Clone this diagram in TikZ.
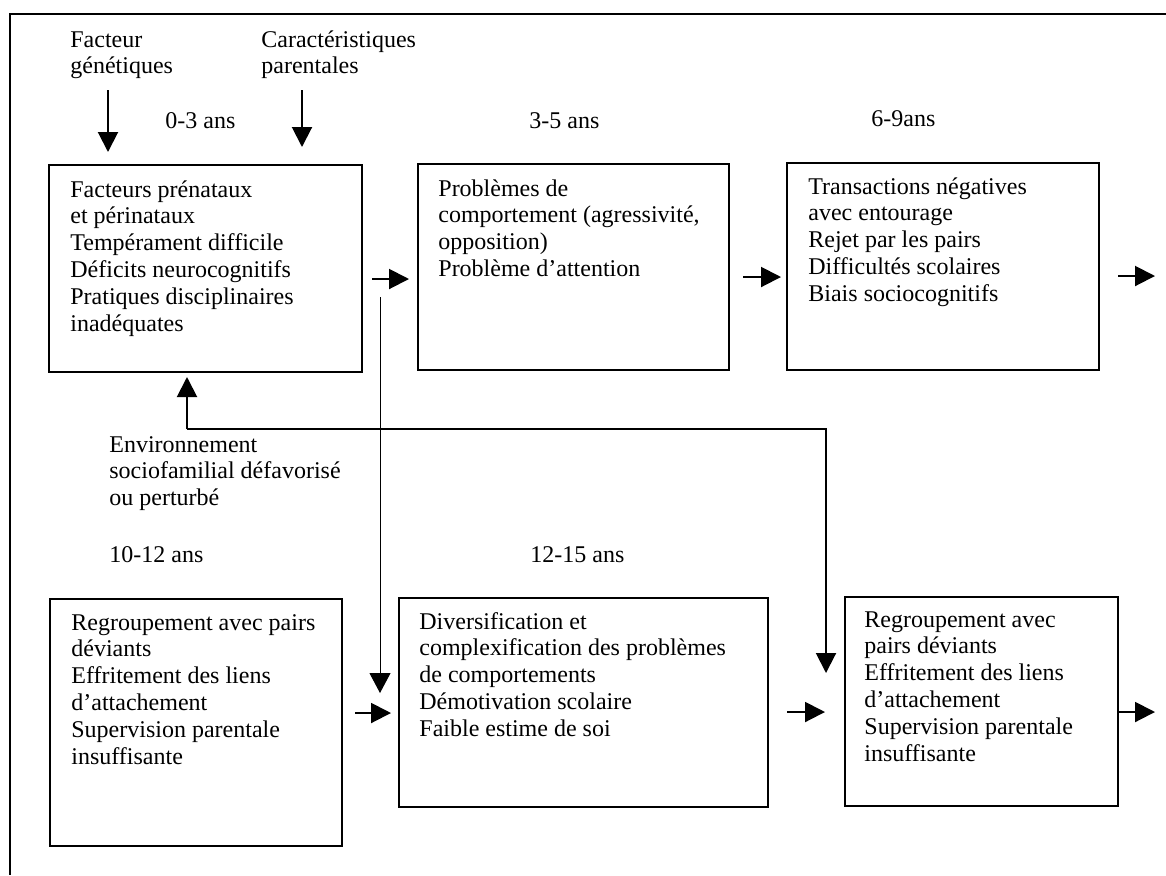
\documentclass[tikz,border=0pt]{standalone}
\usepackage{fontspec}
\setmainfont{Liberation Serif}
\usetikzlibrary{arrows.meta,fit,calc}
\begin{document}
\begin{tikzpicture}[x=0.5pt,y=-0.5pt,
  box/.style={draw,line width=1pt,inner sep=0pt},
  txt/.style={inner sep=0pt,align=left,font=\fontsize{12}{13.4}\selectfont},
  arr/.style={line width=1pt,-{Triangle[length=10pt,width=10pt]}},
  thinarr/.style={line width=0.5pt,-{Triangle[length=10pt,width=10.5pt]}},
  frameline/.style={line width=1pt}]
\useasboundingbox (0,0) rectangle (1166,875);
% outer frame (top and left only)
\draw[frameline] (1166,14) -- (10,14) -- (10,875);

% boxes
\node[box,fit={(49,165) (362,372)}] (b1) {};
\node[box,fit={(418,164) (729,370)}] (b2) {};
\node[box,fit={(787,163) (1099,370)}] (b3) {};
\node[box,fit={(50,599) (342,846)}] (b4) {};
\node[box,fit={(399,598) (768,807)}] (b5) {};
\node[box,fit={(845,597) (1118,806)}] (b6) {};

% box texts
\node[txt,anchor=north west] (t1) at ($(b1.north west)+(22,14)$) {\strut Facteurs prénataux\\et périnataux\\Tempérament difficile\\Déficits neurocognitifs\\Pratiques disciplinaires\\inadéquates};
\node[txt,anchor=north west] (t2) at ($(b2.north west)+(21,14)$) {\strut Problèmes de\\comportement (agressivité,\\opposition)\\Problème d’attention};
\node[txt,anchor=north west] (t3) at ($(b3.north west)+(22,13)$) {\strut Transactions négatives\\avec entourage\\Rejet par les pairs\\Difficultés scolaires\\Biais sociocognitifs};
\node[txt,anchor=north west] (t4) at ($(b4.north west)+(22,13)$) {\strut Regroupement avec pairs\\déviants\\Effritement des liens\\d’attachement\\Supervision parentale\\insuffisante};
\node[txt,anchor=north west] (t5) at ($(b5.north west)+(21,13)$) {\strut Diversification et\\complexification des problèmes\\de comportements\\Démotivation scolaire\\Faible estime de soi};
\node[txt,anchor=north west] (t6) at ($(b6.north west)+(20,12)$) {\strut Regroupement avec\\pairs déviants\\Effritement des liens\\d’attachement\\Supervision parentale\\insuffisante};

% free labels
\node[txt,anchor=north west] (gen) at (70,28) {\strut Facteur\\génétiques};
\node[txt,anchor=north west] (par) at (261,28) {\strut Caractéristiques\\parentales};
\node[txt,anchor=base west] (a03) at (165,128) {0-3 ans};
\node[txt,anchor=base west] (a35) at (529,128) {3-5 ans};
\node[txt,anchor=base west] (a69) at (871,126) {6-9ans};
\node[txt,anchor=north west] (env) at (109,433) {\strut Environnement\\sociofamilial défavorisé\\ou perturbé};
\node[txt,anchor=base west] (a1012) at (109,562) {10-12 ans};
\node[txt,anchor=base west] (a1215) at (530,562) {12-15 ans};

% coordinates for free ends
\coordinate (g0) at (108,90);
\coordinate (g1) at (108,152);
\coordinate (p0) at (302,90);
\coordinate (p1) at (302,147);
\coordinate (r3) at (1155,276);
\coordinate (r6) at (1155,712);
\coordinate (th0) at (380,297);
\coordinate (th1) at (380,693);
\coordinate (e0) at (187,429);
\coordinate (e1) at (187,377);
\coordinate (e2) at (826,429);
\coordinate (e3) at (826,673);

% arrows from factors
\draw[arr] (g0) -- (g1);
\draw[arr] (p0) -- (p1);

% horizontal sequence arrows
\draw[arr] ($(b1.east)+(9,10.5)$) -- ($(b2.west)+(-8,12)$);
\draw[arr] ($(b2.east)+(13,10)$) -- ($(b3.west)+(-5,10.5)$);
\draw[arr] ($(b3.east)+(18,9.5)$) -- (r3);
\draw[arr] ($(b4.east)+(12,-9.5)$) -- ($(b5.west)+(-7,10.5)$);
\draw[arr] ($(b5.east)+(18,9.5)$) -- ($(b6.west)+(-19,10.5)$);
\draw[arr] ($(b6.east)+(0,10.5)$) -- (r6);

% thin connector
\draw[thinarr] (th0) -- (th1);

% environment connector
\draw[arr] (e0) -- (e1);
\draw[arr] (e0) -- (e2) -- (e3);
\end{tikzpicture}
\end{document}
